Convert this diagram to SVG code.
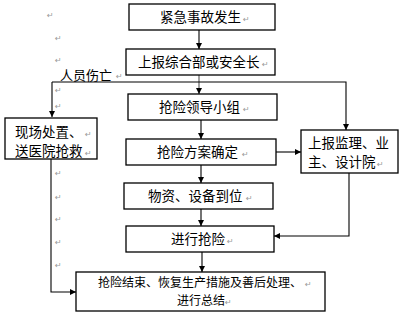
<svg xmlns="http://www.w3.org/2000/svg" width="412" height="318" viewBox="0 0 412 318">
<defs>
<marker id="ah" viewBox="0 0 10 10" refX="10" refY="5" markerWidth="7" markerHeight="6" markerUnits="userSpaceOnUse" orient="auto">
<path d="M0,0 L10,5 L0,10 z" fill="#000"/>
</marker>
<style>
.box{fill:#fff;stroke:#000;stroke-width:1.3}
.t{font-family:"Noto Sans CJK SC","Liberation Sans",sans-serif;font-size:13.5px;fill:#000}
.s{font-family:"Noto Sans CJK SC","Liberation Sans",sans-serif;font-size:12px;fill:#000}
.pm{font-family:"DejaVu Sans",sans-serif;font-size:8px;fill:#999}
.c{fill:none;stroke:#000;stroke-width:1.1;marker-end:url(#ah)}
</style>
</defs>
<rect width="412" height="318" fill="#fff"/>
<g id="connectors">
<path class="c" d="M199,30 V49"/>
<path class="c" d="M199,75 V94" style="stroke:#555"/>
<path class="c" d="M201,120 V139"/>
<path class="c" d="M201,165 V183"/>
<path class="c" d="M201,209 V226"/>
<path class="c" d="M202,252 V272"/>
<path class="c" d="M52,82 V117"/>
<path class="c" d="M52,82 H346 V130"/>
<path class="c" d="M276,152 H301"/>
<path class="c" d="M349,173 V236 H274"/>
<path class="c" d="M51,159 V292 H76"/>
</g>
<g id="n1"><rect class="box" x="129" y="4" width="146" height="26"/><text class="t" x="160" y="22">紧急事故发生</text><text class="pm" x="243" y="22">↵</text></g>
<g id="n2"><rect class="box" x="126" y="49" width="149" height="26"/><text class="t" x="138" y="67">上报综合部或安全长</text><text class="pm" x="262" y="67">↵</text></g>
<g id="n3"><rect class="box" x="128" y="94" width="149" height="26"/><text class="t" x="159" y="112">抢险领导小组</text><text class="pm" x="243" y="112">↵</text></g>
<g id="n4"><rect class="box" x="126" y="139" width="150" height="26"/><text class="t" x="157" y="157">抢险方案确定</text><text class="pm" x="242" y="157">↵</text></g>
<g id="n5"><rect class="box" x="124" y="183" width="149" height="26"/><text class="t" x="148" y="201">物资、设备到位</text><text class="pm" x="246" y="201">↵</text></g>
<g id="n6"><rect class="box" x="126" y="226" width="148" height="26"/><text class="t" x="171" y="244">进行抢险</text><text class="pm" x="227" y="244">↵</text></g>
<g id="n7"><rect class="box" x="76" y="272" width="249" height="39"/><text class="s" x="98" y="287">抢险结束、恢复生产措施及善后处理、</text><text class="pm" x="305" y="287">↵</text><text class="s" x="177" y="305">进行总结</text><text class="pm" x="225" y="305">↵</text></g>
<g id="n8"><rect class="box" x="5" y="118" width="92" height="41"/><text class="t" x="15" y="137">现场处置、</text><text class="pm" x="85" y="137">↵</text><text class="t" x="15" y="156">送医院抢救</text><text class="pm" x="85" y="156">↵</text></g>
<g id="n9"><rect class="box" x="301" y="130" width="97" height="43"/><text class="t" x="308" y="148">上报监理、业</text><text class="t" x="308" y="167">主、设计院</text><text class="pm" x="377" y="167">↵</text></g>
<g id="label"><text class="t" x="60" y="80" style="font-size:13px">人员伤亡</text><text class="pm" x="116" y="79">↵</text></g>
<g id="marks" class="pm">
<text x="47" y="18">↵</text>
<text x="55" y="41">↵</text>
<text x="55" y="63">↵</text>
<text x="55" y="93">↵</text>
<text x="55" y="109">↵</text>
<text x="55" y="176">↵</text>
<text x="55" y="200">↵</text>
<text x="55" y="222">↵</text>
<text x="55" y="245">↵</text>
<text x="55" y="268">↵</text>
</g>
</svg>
